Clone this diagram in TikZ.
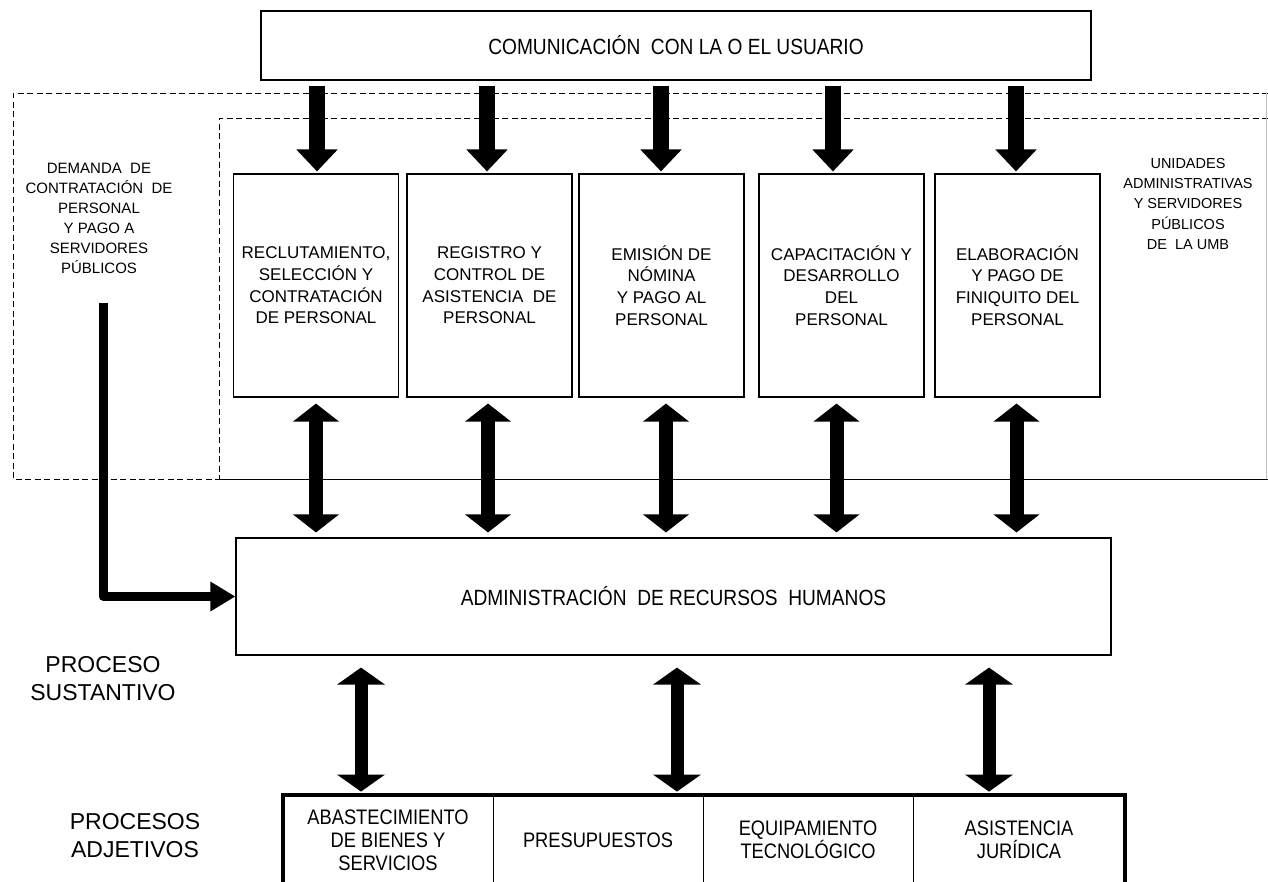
\documentclass[tikz,border=0pt]{standalone}
\usepackage{fontspec}
\setmainfont{Liberation Sans}
\newfontfamily\narrowfont[FakeStretch=0.87]{Liberation Sans}
\usetikzlibrary{arrows.meta}
\begin{document}
\begin{tikzpicture}[x=1pt,y=-1pt,
  box/.style={draw, line width=1.1pt, inner sep=0pt, align=center,
    minimum width=165pt, minimum height=223pt,
    font=\fontsize{17}{21.7}\selectfont},
  bigbox/.style={draw, line width=1.1pt, inner sep=0pt, align=center,
    font=\narrowfont\fontsize{22}{26}\selectfont},
  cell/.style={draw, line width=0.8pt, inner sep=0pt, align=center,
    minimum width=210pt, minimum height=90pt,
    font=\narrowfont\fontsize{21}{23}\selectfont},
  sidelbl/.style={align=center, inner sep=0pt},
  proclbl/.style={align=center, inner sep=0pt, font=\fontsize{23}{28}\selectfont},
  dsh/.style={line width=1pt, dash pattern=on 6pt off 3.5pt},
  dn/.style={line width=16pt, -{Triangle[width=40pt,length=22pt]}},
  dbl/.style={line width=14pt, {Triangle[width=45pt,length=18pt]}-{Triangle[width=45pt,length=18pt]}},
  dbllow/.style={line width=13pt, {Triangle[width=47pt,length=17pt]}-{Triangle[width=47pt,length=17pt]}},
  larrow/.style={line width=9pt, line join=round, -{Triangle[width=28pt,length=25pt]}}
]
\useasboundingbox (0,0) rectangle (1268,881);
\clip (0,0) rectangle (1268,881);

% dashed areas
\draw[dsh] (1268,93) -- (13,93) -- (13,479) -- (219,479);
\draw[dsh] (1268,118) -- (219,118) -- (219,479);
\draw[line width=1pt] (219,479) -- (1268,479);
\draw[line width=0.8pt, black!25] (1266,93) -- (1266,479);

% top box
\node[bigbox, minimum width=830pt, minimum height=69pt] (top) at (676,45.5)
  {COMUNICACIÓN\ \ CON LA O EL USUARIO};

% process boxes
\node[box] (b1) at (316,285.5) {RECLUTAMIENTO,\\SELECCIÓN Y\\CONTRATACIÓN\\DE PERSONAL};
\node[box] (b2) at (489.5,285.5) {REGISTRO Y\\CONTROL DE\\ASISTENCIA\ \ DE\\PERSONAL};
\node[box] (b3) at (661.5,285.5) {EMISIÓN DE\\NÓMINA\\Y PAGO AL\\PERSONAL};
\node[box] (b4) at (841.5,285.5) {CAPACITACIÓN Y\\DESARROLLO\\DEL\\PERSONAL};
\node[box] (b5) at (1017.5,285.5) {ELABORACIÓN\\Y PAGO DE\\FINIQUITO DEL\\PERSONAL};

% admin box
\node[bigbox, minimum width=875pt, minimum height=117pt] (adm) at (673.5,596.5)
  {ADMINISTRACIÓN\ \ DE RECURSOS\ \ HUMANOS};

% bottom cells
\node[cell] (c1) at (388,840) {ABASTECIMIENTO\\DE BIENES Y\\SERVICIOS};
\node[cell] (c2) at (598,840) {PRESUPUESTOS};
\node[cell] (c3) at (808,840) {EQUIPAMIENTO\\TECNOLÓGICO};
\node[cell, minimum width=212pt] (c4) at (1019,840) {ASISTENCIA\\JURÍDICA};
\draw[line width=4pt] (c1.south west) |- (c4.north east) -- (c4.south east);

% side labels
\node[sidelbl, font=\fontsize{15}{20}\selectfont] (dem) at (99,218)
  {DEMANDA\ \ DE\\CONTRATACIÓN\ \ DE\\PERSONAL\\Y PAGO A\\SERVIDORES\\PÚBLICOS};
\node[sidelbl, font=\fontsize{14.5}{20.2}\selectfont] (uni) at (1188,204)
  {UNIDADES\\ADMINISTRATIVAS\\Y SERVIDORES\\PÚBLICOS\\DE\ \ LA UMB};
\node[proclbl] (sus) at (103,679) {PROCESO\\SUSTANTIVO};
\node[proclbl] (adj) at (135,836) {PROCESOS\\ADJETIVOS};

% down arrows from top box
\coordinate (t1) at ([xshift=1pt]b1.north);
\coordinate (t2) at ([xshift=-2.5pt]b2.north);
\coordinate (t3) at ([xshift=-0.5pt]b3.north);
\coordinate (t4) at ([xshift=-8.5pt]b4.north);
\coordinate (t5) at ([xshift=-1.5pt]b5.north);
\foreach \t in {t1,t2,t3,t4,t5}
  \draw[dn, shorten <=5pt, shorten >=2pt] (top.south -| \t) -- (\t);

% double arrows boxes <-> admin
\coordinate (m1) at (b1.south);
\coordinate (m2) at ([xshift=-1.5pt]b2.south);
\coordinate (m3) at ([xshift=4.5pt]b3.south);
\coordinate (m4) at ([xshift=-5pt]b4.south);
\coordinate (m5) at ([xshift=-1pt]b5.south);
\foreach \m in {m1,m2,m3,m4,m5}
  \draw[dbl, shorten <=6pt, shorten >=5pt] (\m) -- (adm.north -| \m);

% double arrows admin <-> bottom processes
\coordinate (l1) at (361,700);
\coordinate (l2) at (677,700);
\coordinate (l3) at (989,700);
\foreach \l in {l1,l2,l3}
  \draw[dbllow, shorten <=12pt, shorten >=3pt] (adm.south -| \l) -- (c1.north -| \l);

% demand arrow
\coordinate (ls) at (103,303);
\draw[larrow] (ls) |- (adm.west);
\end{tikzpicture}
\end{document}
